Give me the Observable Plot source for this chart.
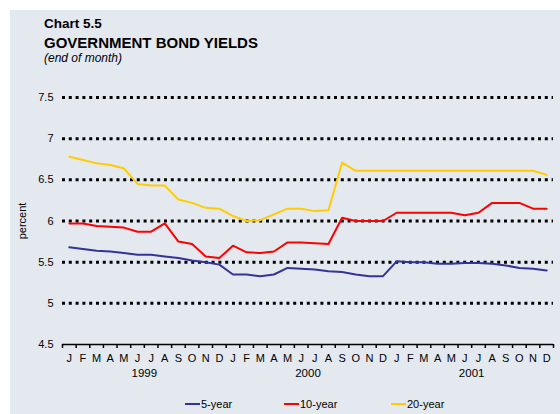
<!DOCTYPE html>
<html>
<head>
<meta charset="utf-8">
<script src="https://cdn.jsdelivr.net/npm/d3@7"></script>
<script src="https://cdn.jsdelivr.net/npm/@observablehq/plot@0.6"></script>
<style>
  html, body { margin: 0; padding: 0; background: #ffffff; }
  body { width: 560px; height: 414px; position: relative; overflow: hidden; font-family: "Liberation Sans", Arial, sans-serif; }
  #panel { position: absolute; left: 10px; top: 10px; width: 550px; height: 404px; background: #e4e9f0; }
  #chart { position: absolute; left: 0; top: 0; }
  .t1 { position: absolute; left: 44px; font-weight: bold; color: #000; white-space: nowrap; line-height: 1.15; }
  .t3 { position: absolute; left: 44px; font-style: italic; font-size: 12px; color: #000; white-space: nowrap; line-height: 1.15; }
  #legend { position: absolute; top: 397px; left: 0; width: 560px; height: 14px; font-size: 11px; }
  .li { position: absolute; top: 0; display: flex; align-items: center; height: 14px; }
  .sw { width: 15px; height: 2px; margin-right: 1px; }
</style>
</head>
<body>
<div id="panel"></div>
<div id="chart"></div>
<div class="t1" style="top:16px; font-size:13.5px">Chart 5.5</div>
<div class="t1" style="top:34px; font-size:15px">GOVERNMENT BOND YIELDS</div>
<div class="t3" style="top:52px">(end of month)</div>
<div id="legend"></div>
<script>
const months = ["J","F","M","A","M","J","J","A","S","O","N","D"];
const years = ["1999","2000","2001"];
const yTicks = [4.5, 5, 5.5, 6, 6.5, 7, 7.5];
const seriesNames = ["5-year", "10-year", "20-year"];
const seriesColors = ["#33339a", "#ff0000", "#ffcc00"];

const five = [5.68,5.66,5.64,5.63,5.61,5.59,5.59,5.57,5.55,5.52,5.50,5.47,
              5.35,5.35,5.33,5.35,5.43,5.42,5.41,5.39,5.38,5.35,5.33,5.33,
              5.51,5.50,5.50,5.48,5.48,5.49,5.49,5.48,5.46,5.43,5.42,5.40];
const ten = [5.97,5.97,5.94,5.93,5.92,5.87,5.87,5.97,5.75,5.72,5.57,5.55,
             5.70,5.62,5.61,5.63,5.74,5.74,5.73,5.72,6.04,6.00,6.00,6.00,
             6.10,6.10,6.10,6.10,6.10,6.07,6.10,6.22,6.22,6.22,6.15,6.15];
const twenty = [6.78,6.74,6.70,6.68,6.64,6.45,6.43,6.43,6.26,6.22,6.16,6.15,
                6.06,6.00,6.01,6.08,6.15,6.15,6.12,6.13,6.71,6.61,6.61,6.61,
                6.61,6.61,6.61,6.61,6.61,6.61,6.61,6.61,6.61,6.61,6.61,6.56];

const allSeries = [five, ten, twenty];
const rows = [];
allSeries.forEach((vals, s) => vals.forEach((v, i) => rows.push({i, v, s: seriesNames[s]})));
const nMonths = five.length;
const monthRows = d3.range(nMonths).map(i => ({i, label: months[i % 12]}));
const yearRows = years.map((y, k) => ({i: k * 12 + 5.5, label: y}));
const boundaries = d3.range(nMonths + 1).map(i => i - 0.5);
const gridTicks = yTicks.filter(t => t > yTicks[0]);

const chart = Plot.plot({
  width: 560,
  height: 414,
  marginLeft: 62,
  marginRight: 7,
  marginTop: 97,
  marginBottom: 70,
  style: {background: "transparent", fontFamily: "Liberation Sans, Arial, sans-serif", fontSize: "11px", color: "#000"},
  x: {domain: [-0.5, nMonths - 0.5], axis: null},
  y: {domain: [yTicks[0], yTicks[yTicks.length - 1]], axis: null},
  color: {domain: seriesNames, range: seriesColors},
  marks: [
    Plot.ruleY(gridTicks, {stroke: "#000", strokeWidth: 3, strokeDasharray: "3,3.8"}),
    Plot.ruleY([yTicks[0]], {stroke: "#000", strokeWidth: 1.5}),
    Plot.axisX({ticks: boundaries, tickSize: 4, tickFormat: () => "", label: null, stroke: "#000", strokeWidth: 1.5}),
    Plot.axisY({ticks: yTicks, tickSize: 0, tickPadding: 9, fontSize: 11, tickFormat: d => String(d), label: "percent", labelAnchor: "center", labelArrow: "none", labelOffset: 44}),
    Plot.text(monthRows, {x: "i", text: "label", frameAnchor: "bottom", dy: 17, fontSize: 11}),
    Plot.text(yearRows, {x: "i", text: "label", frameAnchor: "bottom", dy: 32, fontSize: 11.5}),
    Plot.line(rows, {x: "i", y: "v", z: "s", stroke: "s", strokeWidth: 2, curve: "linear"})
  ]
});
document.getElementById("chart").appendChild(chart);

const legendX = [185, 284, 391];
const legend = document.getElementById("legend");
seriesNames.forEach((name, k) => {
  const item = document.createElement("div");
  item.className = "li";
  item.style.left = legendX[k] + "px";
  item.innerHTML = `<span class="sw" style="background:${seriesColors[k]}"></span><span>${name}</span>`;
  legend.appendChild(item);
});
</script>
</body>
</html>
